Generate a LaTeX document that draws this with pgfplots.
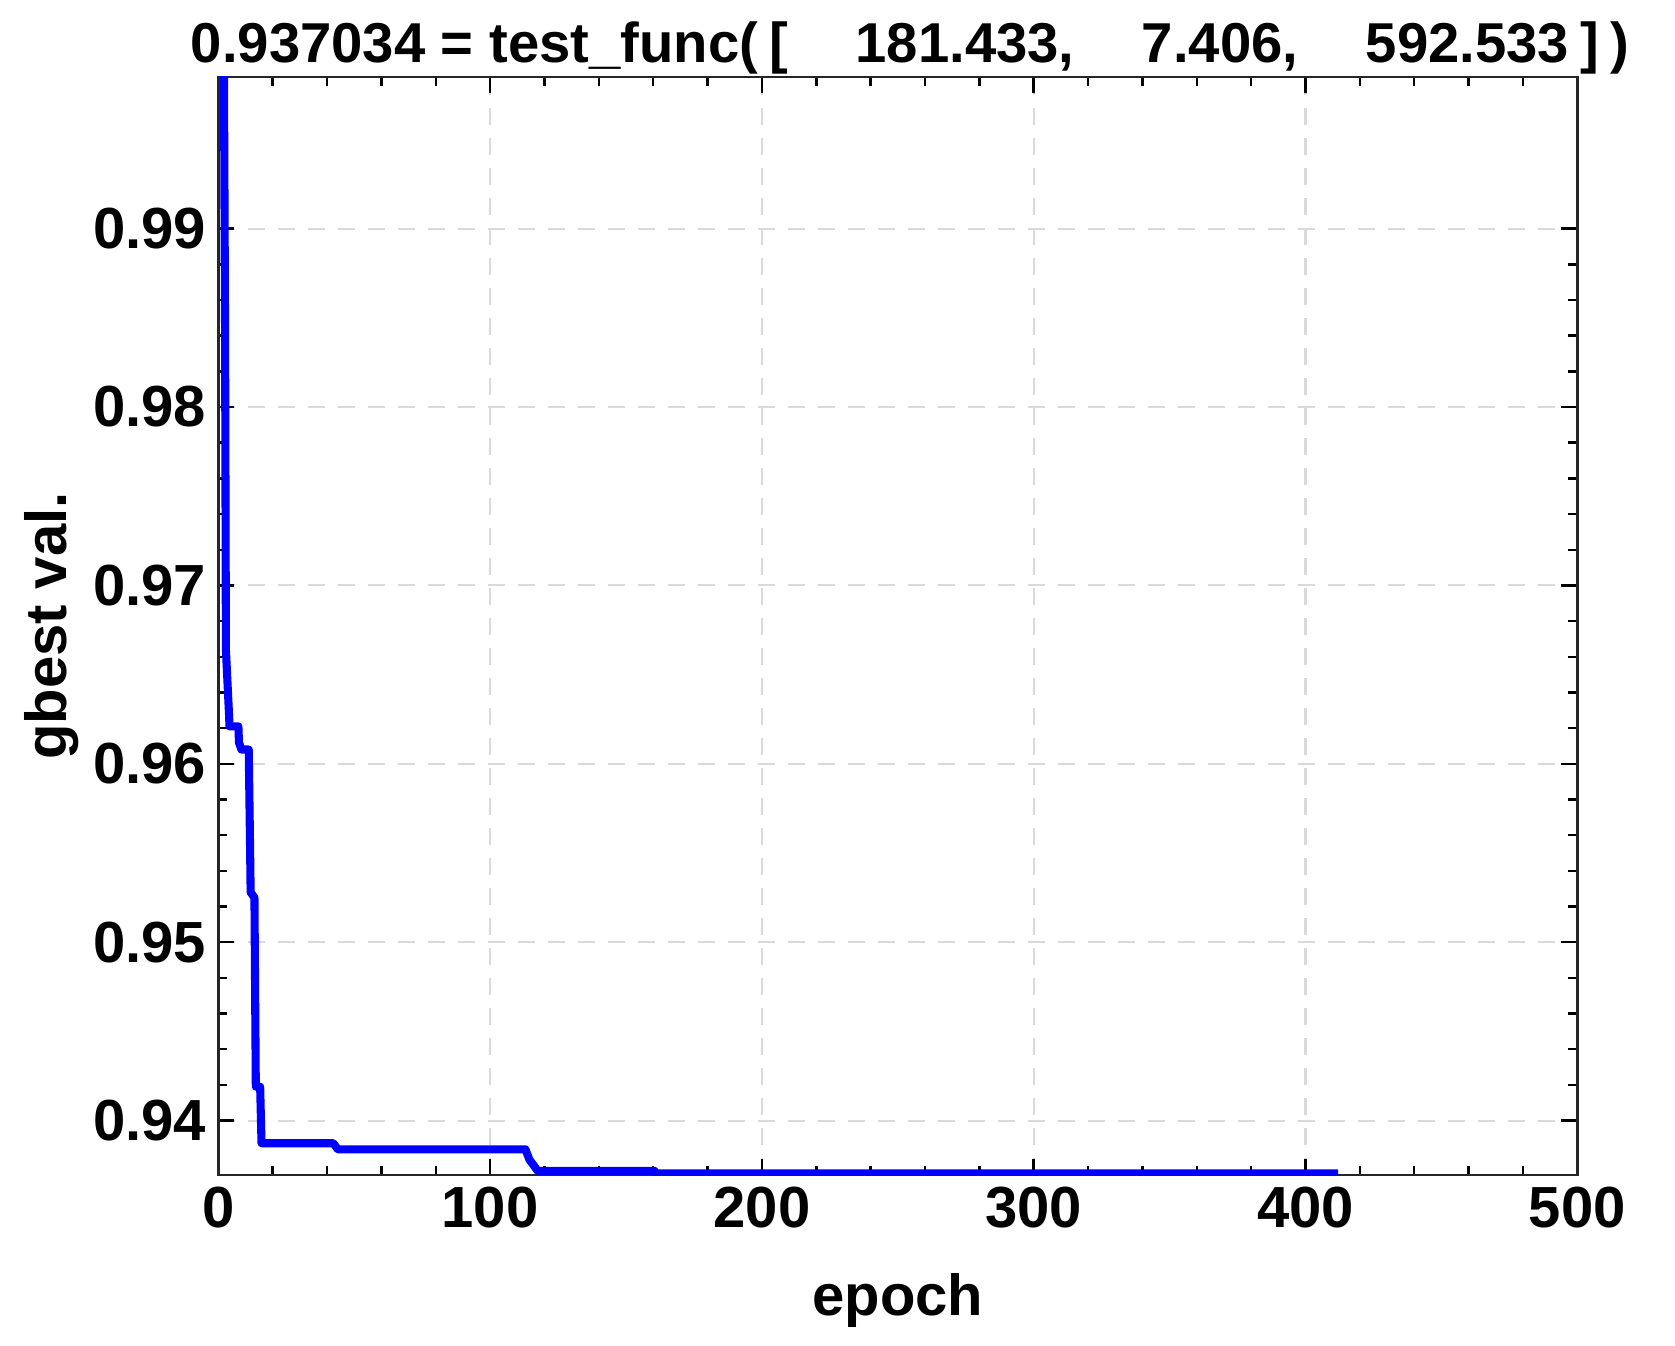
\documentclass[border=0pt]{standalone}
\usepackage{fontspec}
\setmainfont{Liberation Sans}
\usepackage{pgfplots}
\pgfplotsset{compat=1.18}

\definecolor{gridgray}{gray}{0.85}

\begin{document}
\begin{tikzpicture}
\useasboundingbox (0,0) rectangle (167.5mm,134.5mm);
\begin{axis}[
    at={(21.83mm,17.0mm)}, anchor=south west,
    scale only axis,
    width=135.9mm, height=109.8mm,
    xmin=0, xmax=500,
    ymin=0.93695, ymax=0.9985,
    xtick={0,100,...,500},
    ytick={0.94,0.95,0.96,0.97,0.98,0.99},
    minor x tick num=4,
    minor y tick num=4,
    tick align=inside,
    major tick length=1.6mm,
    minor tick length=0.9mm,
    tick style={black, line width=0.7pt},
    axis line style={black!85, line width=0.8pt},
    grid=major,
    major grid style={gridgray, line width=0.6pt, dash pattern=on 1.7mm off 1.3mm},
    yticklabel style={/pgf/number format/.cd, fixed, fixed zerofill, precision=2, assume math mode=true},
    xticklabel style={/pgf/number format/assume math mode=true},
    ticklabel style={font=\fontsize{16.5}{18}\selectfont\bfseries},
    xlabel={epoch},
    ylabel={gbest val.},
    label style={font=\fontsize{16.5}{18}\selectfont\bfseries},
    xlabel style={at={(axis description cs:0.5,-0.128)}, anchor=base},
    ylabel style={at={(axis description cs:-0.112,0.5)}, anchor=base, rotate=0},
    clip=true,
]
\addplot[blue, line width=2.3pt, line join=round] coordinates {
    (1.9,1.005) (2.5,0.9840) (2.8,0.9664) (4.0,0.9626) (4.1,0.9621)
    (7.4,0.9621) (7.6,0.9612) (8.5,0.9608) (11.2,0.9608) (11.7,0.9552)
    (11.9,0.9528) (13.3,0.9525) (13.8,0.9419) (15.4,0.9419) (15.9,0.93873)
    (42.3,0.93873) (44.0,0.93839) (113.0,0.93839) (114.5,0.9378) (116.0,0.9375)
    (117.5,0.93718) (160.5,0.93718) (161.0,0.937034) (412.0,0.937034)
};
\end{axis}
\node[anchor=base, font=\fontsize{16}{18}\selectfont\bfseries] at (91mm,128.2mm)
    {0.937034 = test\_func(\hspace{0.2em}[\hspace{1.2em}181.433,\hspace{1.2em}7.406,\hspace{1.2em}592.533\hspace{0.2em}]\hspace{0.2em})};
\end{tikzpicture}
\end{document}
